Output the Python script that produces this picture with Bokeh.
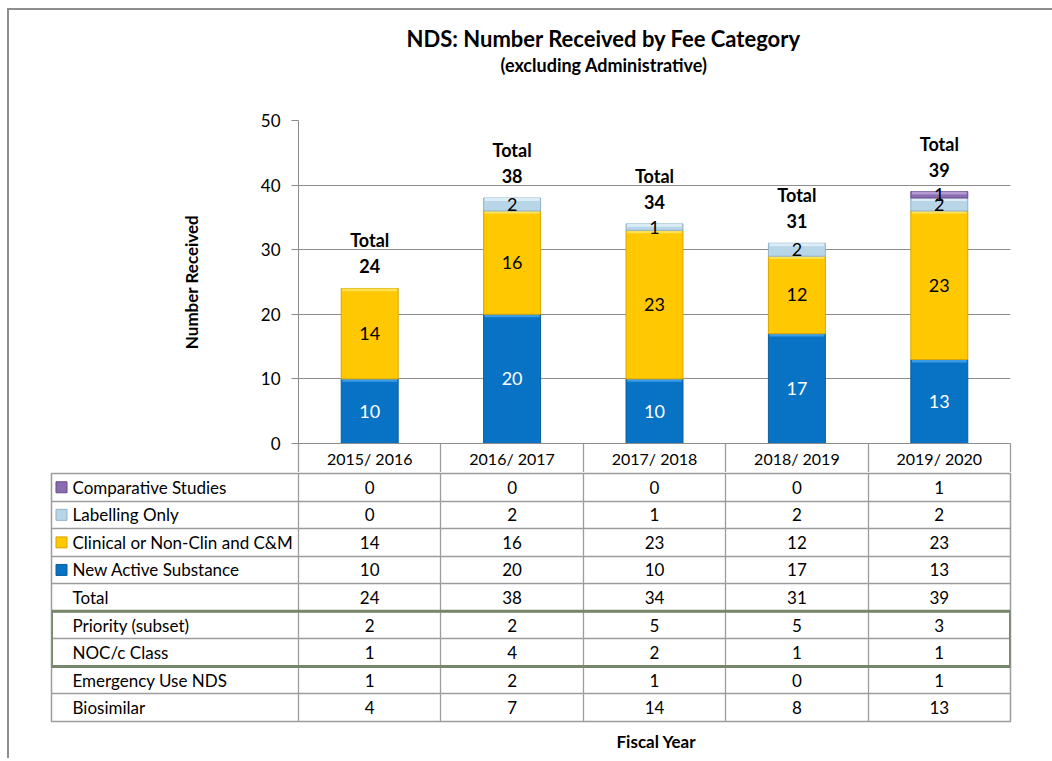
import numpy as np
from bokeh.plotting import figure
from bokeh.models import (ColumnDataSource, Range1d, FixedTicker, Title)
from bokeh.core.properties import value
from bokeh.embed import file_html
from bokeh.resources import INLINE

# ---------------- data ----------------
years = ["2015/ 2016", "2016/ 2017", "2017/ 2018", "2018/ 2019", "2019/ 2020"]
new_active = [10, 20, 10, 17, 13]
clinical = [14, 16, 23, 12, 23]
labelling = [0, 2, 1, 2, 2]
comparative = [0, 0, 0, 0, 1]
priority = [2, 2, 5, 5, 3]
noc_c = [1, 4, 2, 1, 1]
emergency = [1, 2, 1, 0, 1]
biosimilar = [4, 7, 14, 8, 13]
y_ticks = [0, 10, 20, 30, 40, 50]

title_text = "NDS: Number Received by Fee Category"
subtitle_text = "(excluding Administrative)"

FONT = "Lato"
GRID = "#8c8c8c"
TBL = "#9c9c9c"
FRAME = "#8e8e8e"

# name, values, fill, light (bevel), edge, label colour
series = [
    ("New Active Substance", new_active, "#0872C4", "#3A9BE8", "#0A5E9E", "white"),
    ("Clinical or Non-Clin and C&M", clinical, "#FFC800", "#FFE055", "#D8A600", "black"),
    ("Labelling Only", labelling, "#B9D6E8", "#DDEDF7", "#8DB2CA", "black"),
    ("Comparative Studies", comparative, "#8A6DB0", "#B39AD2", "#654A8A", "black"),
]
totals = [int(sum(v)) for v in zip(new_active, clinical, labelling, comparative)]

n = len(years)
xpos = list(range(n))          # position of each fiscal year on the x scale

line_img = "linear-gradient(%s,%s)" % (FRAME, FRAME)
W = 1052

# ---------------- chart ----------------
p = figure(x_range=Range1d(-0.5, n - 0.5), y_range=Range1d(0, 50),
           width=W, height=472, output_backend="svg", toolbar_location=None,
           min_border_left=298, min_border_right=W - 1010, min_border_top=120,
           min_border_bottom=29)
p.styles = {"background": "%s 7px 8px / 2px 100%% no-repeat, "
                          "%s 7px 8px / 100%% 2px no-repeat, white" % (line_img, line_img)}
p.title.visible = False
p.outline_line_color = None
p.background_fill_color = "white"
p.border_fill_color = None
p.xgrid.visible = False
p.ygrid.grid_line_color = GRID
p.ygrid.grid_line_width = 1

p.yaxis.ticker = FixedTicker(ticks=y_ticks)
p.yaxis.minor_tick_line_color = None
p.yaxis.major_tick_out = 7
p.yaxis.major_tick_in = 0
p.yaxis.major_tick_line_color = GRID
p.yaxis.axis_line_color = GRID
p.yaxis.major_label_standoff = 11
p.yaxis.major_label_text_font = FONT
p.yaxis.major_label_text_font_size = "17px"
p.yaxis.major_label_text_color = "black"
p.yaxis.axis_label = "Number Received"
p.yaxis.axis_label_text_font = FONT
p.yaxis.axis_label_text_font_size = "17px"
p.yaxis.axis_label_text_font_style = "bold"
p.yaxis.axis_label_text_color = "black"
p.yaxis.axis_label_standoff = 56

xax = p.xaxis[0]
xax.ticker = FixedTicker(ticks=xpos, minor_ticks=[i - 0.5 for i in range(n + 1)])
xax.major_label_overrides = {i: y for i, y in zip(xpos, years)}
xax.major_tick_out = 0
xax.major_tick_in = 0
xax.minor_tick_out = 29
xax.minor_tick_in = 0
xax.minor_tick_line_color = TBL
xax.minor_tick_line_width = 1.3
xax.axis_line_color = GRID
xax.major_label_standoff = -24
xax.major_label_text_font = FONT
xax.major_label_text_font_size = "16px"
xax.major_label_text_color = "black"

bottom = np.zeros(n)
for name, vals, fill, light, edge, tcol in series:
    v = np.array(vals, dtype=float)
    top = bottom + v
    idx = [i for i in range(n) if v[i] > 0]
    src = ColumnDataSource(dict(
        x=[xpos[i] for i in idx],
        bottom=[bottom[i] for i in idx],
        top=[top[i] for i in idx],
        band=[top[i] - 0.45 for i in idx],
        mid=[(bottom[i] + top[i]) / 2 for i in idx],
        label=[str(int(v[i])) for i in idx],
    ))
    p.vbar(x="x", bottom="bottom", top="top", width=0.4, fill_color=fill,
           line_color=edge, line_width=1, source=src)
    p.vbar(x="x", bottom="band", top="top", width=0.385, fill_color=light,
           line_color=None, source=src)
    p.text(x="x", y="mid", text="label", source=src, text_align="center",
           text_baseline="middle", text_font=value(FONT), text_font_size="18px",
           text_color=tcol)
    bottom = top

tsrc = ColumnDataSource(dict(x=xpos, y=totals, num=[str(t) for t in totals],
                             word=["Total"] * n))
for col, off in (("num", -22), ("word", -48)):
    p.text(x="x", y="y", text=col, source=tsrc, text_align="center",
           text_baseline="middle", y_offset=off, text_font=value(FONT),
           text_font_size="18px", text_font_style="bold", text_color="black")

# spacer, subtitle, title (stacked outward from the plot frame)
p.add_layout(Title(text=" ", text_font=FONT, text_font_size="10px",
                   standoff=31), "above")
p.add_layout(Title(text=subtitle_text, text_font=FONT, text_font_size="18px",
                   text_font_style="bold", text_color="black", align="left",
                   offset=202, standoff=0), "above")
p.add_layout(Title(text=title_text, text_font=FONT, text_font_size="22px",
                   text_font_style="bold", text_color="black", align="left",
                   offset=108, standoff=0), "above")

# ---------------- data table ----------------
row_labels = ["Comparative Studies", "Labelling Only", "Clinical or Non-Clin and C&M",
              "New Active Substance", "Total", "Priority (subset)", "NOC/c Class",
              "Emergency Use NDS", "Biosimilar"]
row_values = [comparative, labelling, clinical, new_active, totals,
              priority, noc_c, emergency, biosimilar]
row_swatch = {"Comparative Studies": series[3], "Labelling Only": series[2],
              "Clinical or Non-Clin and C&M": series[1],
              "New Active Substance": series[0]}

COL_PX = 142.4
label_w = (298 - 51) / COL_PX
xl = -0.5 - label_w
nr = len(row_labels)

t = figure(x_range=Range1d(xl, n - 0.5), y_range=Range1d(nr - 0.5, -0.5),
           width=W, height=286, output_backend="svg", toolbar_location=None,
           min_border_left=51, min_border_right=W - 1010, min_border_top=1,
           min_border_bottom=37)
t.styles = {"background": "%s 7px 0px / 2px 100%% no-repeat, white" % line_img}
t.title.visible = False
t.xaxis.visible = False
t.yaxis.visible = False
t.border_fill_color = None
t.outline_line_color = TBL
t.outline_line_width = 1.5
t.xgrid.ticker = FixedTicker(ticks=[i - 0.5 for i in range(n)])
t.ygrid.ticker = FixedTicker(ticks=[i + 0.5 for i in range(nr - 1)])
for g in (t.xgrid, t.ygrid):
    g.grid_line_color = TBL
    g.grid_line_width = 1.3

cx, cy, ct = [], [], []
for r, vals in enumerate(row_values):
    for c in range(n):
        cx.append(xpos[c])
        cy.append(r)
        ct.append(str(int(vals[c])))
t.text(x=cx, y=cy, text=ct, text_align="center", text_baseline="middle",
       text_font=value(FONT), text_font_size="17px", text_color="black")

t.text(x=[xl] * nr, y=list(range(nr)), text=row_labels, x_offset=21,
       text_align="left", text_baseline="middle", text_font=value(FONT),
       text_font_size="17px", text_color="black")

sw_rows = [r for r, lab in enumerate(row_labels) if lab in row_swatch]
t.rect(x=[xl + 10 / COL_PX] * len(sw_rows), y=sw_rows, width=11, height=11,
       width_units="screen", height_units="screen",
       fill_color=[row_swatch[row_labels[r]][2] for r in sw_rows],
       line_color=[row_swatch[row_labels[r]][4] for r in sw_rows], line_width=1)

r0 = row_labels.index("Priority (subset)")
r1 = row_labels.index("NOC/c Class")
t.quad(left=[xl], right=[n - 0.5], top=[r0 - 0.5], bottom=[r1 + 0.5],
       fill_color=None, line_color="#76866A", line_width=3)

t.add_layout(Title(text="Fiscal Year", text_font=FONT, text_font_size="17px",
                   text_font_style="bold", text_color="black", align="left",
                   offset=565, standoff=14), "below")

open("out.html", "w").write(file_html([p, t], INLINE))
